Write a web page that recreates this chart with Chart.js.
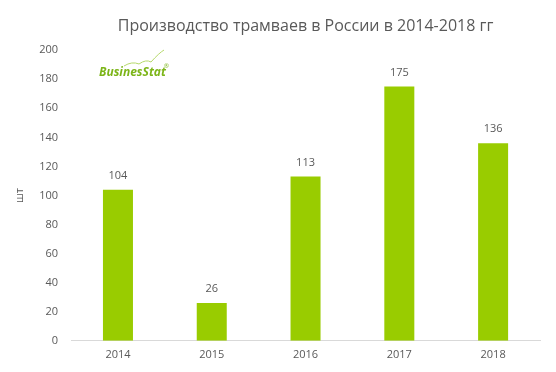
<!DOCTYPE html>
<html>
<head>
<meta charset="utf-8">
<script src="https://cdn.jsdelivr.net/npm/chart.js@4"></script>
<style>
  html, body { margin: 0; padding: 0; background: #fff; }
  #wrap { width: 556px; height: 372px; position: relative; }
</style>
</head>
<body>
<div id="wrap"><canvas id="chart" width="556" height="372"></canvas></div>
<script>
const years = ['2014', '2015', '2016', '2017', '2018'];
const trams = [104, 26, 113, 175, 136];
const yTitle = 'шт';
const chartTitle = 'Производство трамваев в России в 2014-2018 гг';

const textColor = '#595959';
const barColor = '#99cc00';

// подписи значений над столбцами
const valueLabels = {
    id: 'valueLabels',
    afterDatasetsDraw(chart) {
        const ctx = chart.ctx;
        const meta = chart.getDatasetMeta(0);
        ctx.save();
        ctx.font = '11px "Open Sans"';
        ctx.fillStyle = textColor;
        ctx.textAlign = 'center';
        ctx.textBaseline = 'middle';
        meta.data.forEach((bar, i) => {
            ctx.fillText(trams[i], bar.x, bar.y - 14);
        });
        ctx.restore();
    }
};

// логотип BusinesStat
const logo = {
    id: 'logo',
    afterDraw(chart) {
        const ctx = chart.ctx;
        ctx.save();
        ctx.font = 'italic bold 12px "Open Sans"';
        ctx.fillStyle = '#7cb518';
        ctx.textBaseline = 'alphabetic';
        ctx.fillText('BusinesStat', 99, 76);
        ctx.strokeStyle = '#b5d86a';
        ctx.lineWidth = 1;
        ctx.beginPath();
        ctx.moveTo(124, 66);
        ctx.quadraticCurveTo(132, 61, 139, 64);
        ctx.quadraticCurveTo(146, 59, 151, 62);
        ctx.quadraticCurveTo(159, 53, 164, 50);
        ctx.stroke();
        ctx.font = '6px "Open Sans"';
        ctx.fillText('®', 164, 68);
        ctx.restore();
    }
};

new Chart(document.getElementById('chart'), {
    type: 'bar',
    data: {
        labels: years,
        datasets: [{
            data: trams,
            backgroundColor: barColor,
            barPercentage: 0.32,
            categoryPercentage: 1
        }]
    },
    options: {
        responsive: false,
        animation: false,
        layout: { padding: { left: 9, right: 16, top: 0, bottom: 4 } },
        plugins: {
            legend: { display: false },
            tooltip: { enabled: false },
            title: {
                display: true,
                text: chartTitle,
                fullSize: false,
                color: textColor,
                font: { family: 'Open Sans', size: 16, weight: 'normal' },
                padding: { top: 17, bottom: 14 }
            }
        },
        scales: {
            x: {
                grid: { display: false, drawTicks: false },
                border: { display: true, color: '#d9d9d9', width: 1 },
                ticks: { color: textColor, font: { family: 'Open Sans', size: 11 }, padding: 7 }
            },
            y: {
                min: 0,
                max: 200,
                grid: { display: false, drawTicks: false },
                border: { display: false },
                title: { display: true, text: yTitle, color: textColor, font: { family: 'Open Sans', size: 11 }, padding: { top: 4, bottom: 0 } },
                ticks: { stepSize: 20, color: textColor, font: { family: 'Open Sans', size: 11 }, padding: 13 }
            }
        }
    },
    plugins: [valueLabels, logo]
});
</script>
</body>
</html>
